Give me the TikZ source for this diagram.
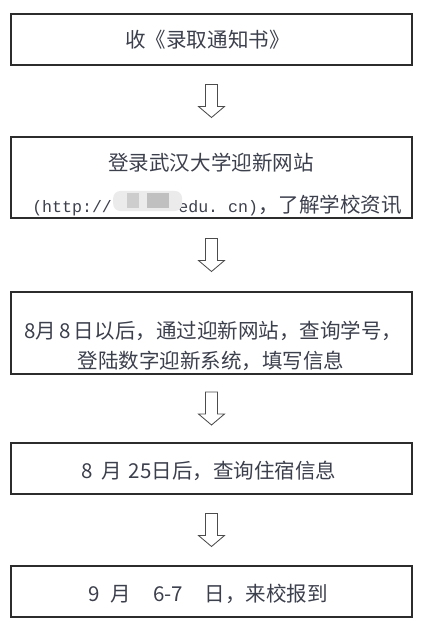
\documentclass[tikz,border=0pt]{standalone}
\usepackage{fontspec}
\newfontfamily\cjk{Noto Sans CJK SC}
\newfontfamily\urlmono{Liberation Mono}
\usetikzlibrary{positioning,calc}
\definecolor{boxline}{HTML}{2C2C2C}
\definecolor{ink}{HTML}{3C3F4C}
\definecolor{blurlight}{HTML}{EBEBEB}
\definecolor{blurmid}{HTML}{CDCDCD}
\definecolor{blurdark}{HTML}{C0C0C0}

\begin{document}
\begin{tikzpicture}[x=0.025cm, y=-0.025cm,
    box/.style={draw=boxline, line width=0.8pt, minimum width=10.025cm, inner sep=0pt},
    txt/.style={text=ink, font=\cjk\fontsize{14.6}{17}\selectfont, inner sep=0pt, anchor=base},
    urltxt/.style={text=ink, font=\urlmono\fontsize{11.8}{14}\selectfont, inner sep=0pt},
    hollow/.style={draw=boxline!85, line width=0.6pt, fill=white}]
  \useasboundingbox (0,0) rectangle (427,629);

  % the five steps
  \foreach \n/\y/\h in {b1/39.5/1.275cm, b2/177.5/2.025cm, b3/333/2.05cm, b4/468.5/1.275cm, b5/591.5/1.275cm}
    \node[box, minimum height=\h] (\n) at (211.5,\y) {};

  \node[txt] (t1) at (207.5,48) {收《录取通知书》};

  \node[txt] (t2a) at (211,171) {登录武汉大学迎新网站};
  \node[urltxt, anchor=base west] (t2b) at (32,212) {(http://};
  \node[txt, anchor=base east] (t2c) at (402,212) {{\urlmono\fontsize{11.8}{14}\selectfont edu.\ cn)}，了解学校资讯};
  % blurred part of the address
  \fill[blurlight, rounded corners=5] ($(t2b.base east)+(1,-21)$) rectangle ($(t2c.base west)+(4,-1)$);
  \fill[blurmid] ($(t2b.base east)+(15,-19)$) rectangle ++(12,15);
  \fill[blurdark] ($(t2b.base east)+(35,-19)$) rectangle ++(22,15);

  \node[txt] (t3a) at (213.5,338) {8月\hspace{0.15em}8\hspace{0.15em}日以后，通过迎新网站，查询学号，};
  \node[txt] (t3b) at (211,368) {登陆数字迎新系统，填写信息};

  \node[txt] (t4) at (209,478) {8\hspace{0.4em}月\hspace{0.35em}25日后，查询住宿信息};
  \node[txt] (t5) at (208,601) {9\hspace{0.55em}月\hspace{1.05em}6-7\hspace{1.05em}日，来校报到};

  % hollow arrows between the steps
  \foreach \a/\b in {b1/b2,b2/b3,b3/b4,b4/b5}
    \draw[hollow] ($(\a.south)!0.5!(\b.north)$) ++(-6,-16.5) -- ++(12,0) -- ++(0,22)
      -- ++(7,0) -- ++(-13,11) -- ++(-13,-11) -- ++(7,0) -- cycle;
\end{tikzpicture}
\end{document}
